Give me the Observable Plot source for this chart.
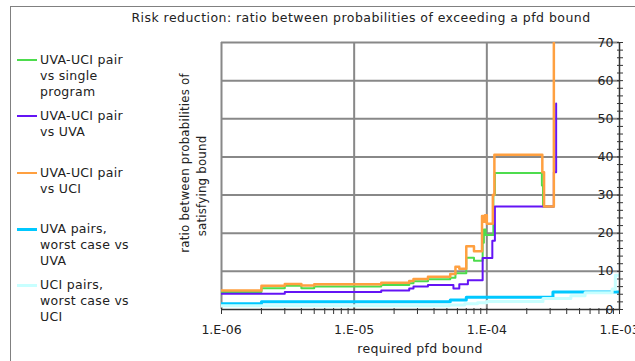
<!DOCTYPE html>
<html><head><meta charset="utf-8">
<script src="https://cdn.jsdelivr.net/npm/d3@7"></script>
<script src="https://cdn.jsdelivr.net/npm/@observablehq/plot@0.6"></script>
<style>
body{margin:0;background:#fff;font-family:"DejaVu Sans",Verdana,sans-serif;}
#wrap{position:relative;width:635px;height:361px;overflow:hidden;background:#fff;}
#frame{position:absolute;left:10px;top:6px;width:700px;height:400px;border-left:1px solid #808080;border-top:1px solid #808080;}
.t{position:absolute;white-space:nowrap;color:#222;font-size:12.5px;letter-spacing:0.3px;line-height:16px;}
.sw{position:absolute;left:17px;width:20px;}
.rot{position:absolute;white-space:nowrap;color:#222;font-size:11.8px;letter-spacing:0.2px;transform:translate(-50%,-50%) rotate(-90deg);}
#chart{position:absolute;left:0;top:0;}
</style></head><body><div id="wrap"><div id="frame"></div><div id="chart"></div></div>
<script>
// ---- data ----
const seriesNames = ["UVA-UCI pair vs single program", "UVA-UCI pair vs UVA", "UVA-UCI pair vs UCI", "UVA pairs, worst case vs UVA", "UCI pairs, worst case vs UCI"];
const legendLines = [["UVA-UCI pair", "vs single", "program"], ["UVA-UCI pair", "vs UVA"], ["UVA-UCI pair", "vs UCI"], ["UVA pairs,", "worst case vs", "UVA"], ["UCI pairs,", "worst case vs", "UCI"]];
const seriesColors = ["#4ddc4d", "#6414f5", "#ffa040", "#00c8ff", "#c8ffff"];

const singleX = [1e-6, 2e-6, 3e-6, 4e-6, 5e-6, 1.6e-5, 2.6e-5, 2.8e-5, 3.6e-5, 5.3e-5, 5.8e-5, 7.0e-5, 8.0e-5, 9.3e-5, 9.5e-5, 9.8e-5, 1.12e-4, 1.15e-4, 2.6e-4, 2.65e-4, 3.2e-4];
const singleY = [4.6, 5.6, 6.2, 5.6, 6.0, 6.4, 6.9, 7.4, 7.9, 8.3, 9.5, 13.6, 12.8, 17.5, 21, 19.5, 30, 35.8, 32.5, 27, 27];

const uvaX = [1e-6, 3e-6, 1.6e-5, 2.6e-5, 2.8e-5, 3.6e-5, 5.6e-5, 6.2e-5, 7.2e-5, 9.3e-5, 1.1e-4, 1.15e-4, 3.2e-4, 3.33e-4];
const uvaY = [4.1, 4.6, 5.0, 5.5, 6.0, 6.4, 5.5, 6.6, 7.7, 13.5, 18, 27, 36, 54];

const uciX = [1e-6, 2e-6, 3e-6, 4e-6, 5e-6, 1.6e-5, 2.6e-5, 2.8e-5, 3.6e-5, 5.3e-5, 5.8e-5, 6.2e-5, 7.0e-5, 8.0e-5, 9.2e-5, 9.5e-5, 9.7e-5, 1.0e-4, 1.11e-4, 1.14e-4, 2.62e-4, 2.7e-4, 3.2e-4];
const uciY = [5.0, 6.2, 6.7, 6.3, 6.6, 7.0, 7.5, 8.0, 8.6, 9.3, 11.2, 10.7, 16.6, 15.3, 24.5, 23, 24.7, 22.5, 30, 40.6, 36, 27, 70];

const uvaWorstX = [1e-6, 2e-6, 5.3e-5, 7.0e-5, 3.15e-4, 1e-3];
const uvaWorstY = [1.5, 2.0, 2.5, 3.2, 4.6, 4.6];

const uciWorstX = [1e-6, 5.2e-5, 6.8e-5, 8.5e-5, 1.0e-4, 2.65e-4, 4.3e-4, 5.5e-4, 8.8e-4, 9.3e-4, 1e-3];
const uciWorstY = [1.0, 1.2, 1.5, 1.8, 2.1, 2.9, 3.6, 4.4, 5.4, 9.0, 9.0];

const xTicks = [1e-6, 1e-5, 1e-4, 1e-3];
const xTickLabels = ["1.E-06", "1.E-05", "1.E-04", "1.E-03"];
const yTicks = [0, 10, 20, 30, 40, 50, 60, 70];
const titleText = "Risk reduction: ratio between probabilities of exceeding a pfd bound";
const xTitle = "required pfd bound";
const yTitleLines = ["ratio between probabilities of", "satisfying bound"];

// ---- build ----
const toRows = (xs, ys) => xs.map((x, i) => ({x, y: ys[i]}));
const minorX = [];
for (const d of [1e-6, 1e-5, 1e-4]) for (let k = 1; k <= 9; k++) minorX.push(d * k);
minorX.push(1e-3);
const yMinor = d3.range(0, 71, 2);
const xLabel = d => {
  const j = xTicks.findIndex(v => Math.abs(Math.log10(v) - Math.log10(d)) < 1e-6);
  return j >= 0 ? xTickLabels[j] : "";
};

const lineOpts = (c, w) => ({x: "x", y: "y", stroke: c, strokeWidth: w, curve: "step-after", clip: true});

const chart = Plot.plot({
  width: 635, height: 361,
  marginTop: 42, marginBottom: 52, marginLeft: 221, marginRight: 16,
  x: {type: "log", domain: [1e-6, 1e-3], label: null},
  y: {domain: [0, 70], label: null},
  style: {fontFamily: "'DejaVu Sans', Verdana, sans-serif", fontSize: "12.5px", color: "#222", background: "transparent"},
  marks: [
    Plot.ruleX(xTicks.slice(0, 3), {stroke: "#888", strokeWidth: 2}),
    Plot.ruleY(yTicks.slice(1), {stroke: "#888", strokeWidth: 2}),
    Plot.line(toRows(singleX, singleY), lineOpts(seriesColors[0], 2)),
    Plot.line(toRows(uvaX, uvaY), lineOpts(seriesColors[1], 2)),
    Plot.line(toRows(uciX, uciY), lineOpts(seriesColors[2], 2.5)),
    Plot.line(toRows(uvaWorstX, uvaWorstY), lineOpts(seriesColors[3], 3)),
    Plot.line(toRows(uciWorstX, uciWorstY), lineOpts(seriesColors[4], 3)),
    Plot.ruleY([0], {stroke: "#333", strokeWidth: 1.5}),
    Plot.ruleX([1e-3], {stroke: "#333", strokeWidth: 1.5}),
    Plot.axisX({ticks: minorX, tickSize: 6, dy: -1, tickFormat: () => "", stroke: "#333"}),
    Plot.axisX({ticks: xTicks, tickSize: 0, tickPadding: 16, tickFormat: xLabel}),
    Plot.axisY({anchor: "right", ticks: yMinor, tickSize: 6, dx: -3, tickFormat: () => "", stroke: "#333"}),
    Plot.axisY({anchor: "right", ticks: yTicks, tickSize: 0, tickPadding: 0, dx: -6, textAnchor: "end", tickFormat: d => String(d)})
  ]
});
document.getElementById("chart").appendChild(chart);

const wrap = document.getElementById("wrap");
function addText(txt, css, cls = "t") {
  const d = document.createElement("div");
  d.className = cls; d.textContent = txt;
  Object.assign(d.style, css);
  wrap.appendChild(d);
  return d;
}
// title
addText(titleText, {left: "361px", top: "18px", transform: "translate(-50%,-50%)", letterSpacing: "0.45px"});
// x title
addText(xTitle, {left: "420px", top: "349px", transform: "translate(-50%,-50%)"});
// y title
addText(yTitleLines[0], {left: "185px", top: "163px"}, "rot");
addText(yTitleLines[1], {left: "202px", top: "186px"}, "rot");
// legend
const legendTops = [52, 108, 165, 221, 277];
const swWidths = [1.5, 1.5, 1.5, 3, 3];
legendLines.forEach((lines, i) => {
  const t = legendTops[i];
  const sw = document.createElement("div");
  sw.className = "sw";
  Object.assign(sw.style, {top: (t + 8 - swWidths[i] / 2) + "px", height: swWidths[i] + "px", background: seriesColors[i]});
  wrap.appendChild(sw);
  const d = addText("", {left: "40px", top: t + "px"});
  d.innerHTML = lines.join("<br>");
});
</script>
</body></html>
